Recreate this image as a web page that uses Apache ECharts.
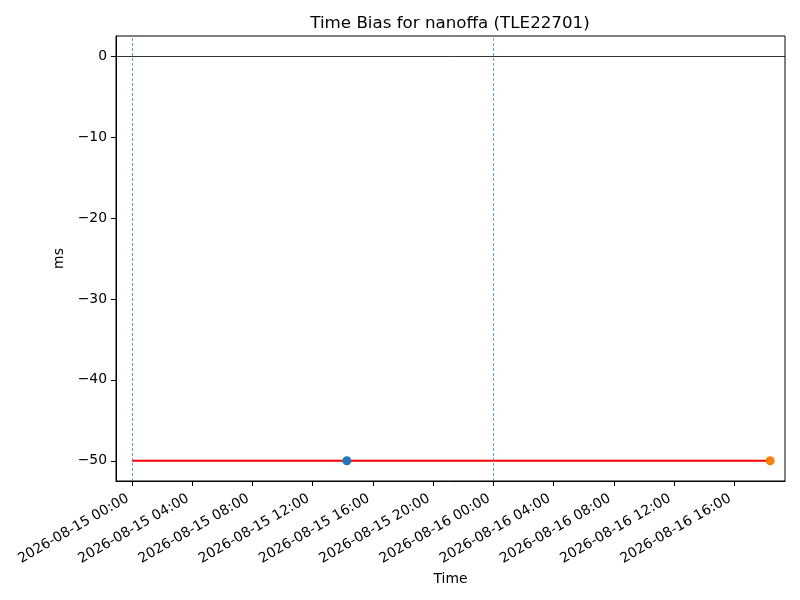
<!DOCTYPE html>
<html>
<head>
<meta charset="utf-8">
<script src="https://cdn.jsdelivr.net/npm/echarts@6/dist/echarts.min.js"></script>
<style>html,body{margin:0;padding:0;background:#fff}#c{width:800px;height:600px}</style>
</head>
<body>
<div id="c"></div>
<script>
const titleText = 'Time Bias for nanoffa (TLE22701)';
const xTickLabels = ['2026-08-15 00:00','2026-08-15 04:00','2026-08-15 08:00','2026-08-15 12:00','2026-08-15 16:00','2026-08-15 20:00','2026-08-16 00:00','2026-08-16 04:00','2026-08-16 08:00','2026-08-16 12:00','2026-08-16 16:00'];
const yTickValues = [0, -10, -20, -30, -40, -50];
const xRange = ['2026-08-14 22:56', '2026-08-16 19:22'];
const yRange = [-52.5, 2.5];
const biasTimes = ['2026-08-15 00:00', '2026-08-16 18:23'];
const biasValues = [-50, -50];
const firstPointTime = '2026-08-15 14:16';
const firstPointValue = -50;
const lastPointTime = '2026-08-16 18:23';
const lastPointValue = -50;
const dayMarkers = ['2026-08-15 00:00', '2026-08-16 00:00'];
const zeroLine = 0;

const t = s => new Date(s.replace(' ', 'T') + ':00').getTime();
const p2 = n => String(n).padStart(2, '0');
const fmt = v => { const d = new Date(v); return d.getFullYear() + '-' + p2(d.getMonth() + 1) + '-' + p2(d.getDate()) + ' ' + p2(d.getHours()) + ':' + p2(d.getMinutes()); };
const font = 'DejaVu Sans';
const chart = echarts.init(document.getElementById('c'), null, {renderer: 'canvas'});
const xTickVals = xTickLabels.map(t);

chart.setOption({
  animation: false,
  backgroundColor: '#fff',
  title: {
    text: titleText, left: 450, top: 15, padding: 0, textAlign: 'center',
    textStyle: {fontFamily: font, fontSize: 16.7, fontWeight: 'normal', color: '#000'}
  },
  grid: {left: 116, right: 15, top: 36, bottom: 119, show: true, borderColor: '#000', borderWidth: 1, containLabel: false},
  xAxis: {
    type: 'value', min: t(xRange[0]), max: t(xRange[1]), scale: true,
    name: 'Time', nameLocation: 'middle', nameGap: 87,
    nameTextStyle: {fontFamily: font, fontSize: 13.9, color: '#000'},
    axisLine: {onZero: false, lineStyle: {color: '#000', width: 1}},
    axisTick: {show: true, inside: false, customValues: xTickVals, length: 5, lineStyle: {color: '#000', width: 1}},
    axisLabel: {
      customValues: xTickVals, rotate: 30, margin: 14, padding: [0, 5, 0, 0],
      fontFamily: font, fontSize: 13.9, color: '#000',
      formatter: v => fmt(v)
    },
    splitLine: {show: false}
  },
  yAxis: {
    type: 'value', min: yRange[0], max: yRange[1],
    name: 'ms', nameLocation: 'middle', nameGap: 41, nameRotate: 90,
    nameTextStyle: {fontFamily: font, fontSize: 13.9, color: '#000'},
    axisLine: {show: true, onZero: false, lineStyle: {color: '#000', width: 1}},
    axisTick: {show: true, inside: false, customValues: yTickValues, length: 5, lineStyle: {color: '#000', width: 1}},
    axisLabel: {
      customValues: yTickValues, margin: 9,
      fontFamily: font, fontSize: 13.9, color: '#000',
      formatter: v => String(v).replace('-', '\u2212')
    },
    splitLine: {show: false}
  },
  series: [
    {
      type: 'line', silent: true, symbol: 'none', data: [], z: 1,
      markLine: {
        silent: true, symbol: 'none', label: {show: false},
        data: [
          {yAxis: zeroLine, lineStyle: {color: '#000', width: 0.8, type: 'solid'}},
          ...dayMarkers.map(d => ({xAxis: t(d), lineStyle: {color: '#1f77b4', width: 0.7, type: [3, 2]}}))
        ]
      }
    },
    {
      type: 'line', silent: true, symbol: 'none', z: 2,
      lineStyle: {color: '#ff0000', width: 2},
      data: biasTimes.map((d, i) => [t(d), biasValues[i]])
    },
    {
      type: 'scatter', silent: true, symbolSize: 9, z: 3,
      itemStyle: {color: '#1f77b4', opacity: 1},
      data: [[t(firstPointTime), firstPointValue]]
    },
    {
      type: 'scatter', silent: true, symbolSize: 9, z: 3,
      itemStyle: {color: '#ff7f0e', opacity: 1},
      data: [[t(lastPointTime), lastPointValue]]
    }
  ]
});
</script>
</body>
</html>
